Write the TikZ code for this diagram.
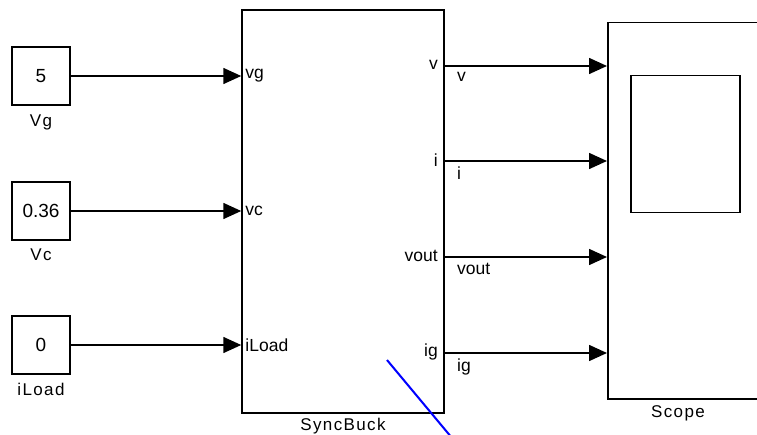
\documentclass[tikz,border=0pt]{standalone}
\usepackage{fontspec}
\setmainfont{Liberation Sans}
\newfontfamily\lblfont[LetterSpace=8]{Liberation Sans}
\usetikzlibrary{arrows.meta}
\begin{document}
\begin{tikzpicture}[x=1pt,y=-1pt,
  blk/.style={draw, line width=1.5pt, inner sep=0pt, font=\fontsize{19}{22}\selectfont},
  lbl/.style={inner sep=0pt, anchor=base, font=\lblfont\fontsize{17}{20}\selectfont},
  port/.style={inner sep=1pt, font=\fontsize{17.5}{20}\selectfont},
  conn/.style={line width=1.6pt, -{Triangle[length=18pt,width=16pt]}}]
\useasboundingbox (0,0) rectangle (757,435);
\clip (0,0) rectangle (757,435);
% sources
\node[blk, minimum width=58pt, minimum height=58pt] (vg) at (41,76) {5};
\node[blk, minimum width=58pt, minimum height=58pt] (vc) at (41,211) {0.36};
\node[blk, minimum width=58pt, minimum height=58pt] (il) at (41,345) {0};
\node[lbl] (vgl) at (41,127) {Vg};
\node[lbl] (vcl) at (41,261) {Vc};
\node[lbl] (ill) at (41,395) {iLoad};
% SyncBuck
\node[blk, minimum width=202pt, minimum height=403pt] (sb) at (343,211.5) {};
\node[lbl] (sbl) at (343,430) {SyncBuck};
% Scope
\node[blk, minimum width=180pt, minimum height=376pt, anchor=north west] (sc) at (607,22) {};
\node[draw, line width=1.5pt, minimum width=109pt, minimum height=137pt, anchor=north west, inner sep=0pt] (scr) at (630,75) {};
\node[lbl] (scl) at (678,417) {Scope};
% input ports
\draw[conn] (vg.east) -- (sb.west |- vg.east);
\draw[conn] (vc.east) -- (sb.west |- vc.east);
\draw[conn] (il.east) -- (sb.west |- il.east);
\node[port, anchor=west] (pvg) at ([xshift=3pt]sb.west |- vg.east) {vg};
\node[port, anchor=west] (pvc) at ([xshift=3pt]sb.west |- vc.east) {vc};
\node[port, anchor=west] (pil) at ([xshift=3pt]sb.west |- il.east) {iLoad};
% output ports
\coordinate (o1) at (444,66);
\coordinate (o2) at (444,161);
\coordinate (o3) at (444,257);
\coordinate (o4) at (444,353);
\draw[conn] (o1) -- (sc.west |- o1);
\draw[conn] (o2) -- (sc.west |- o2);
\draw[conn] (o3) -- (sc.west |- o3);
\draw[conn] (o4) -- (sc.west |- o4);
\node[port, anchor=east] (po1) at ([xshift=-5pt,yshift=1pt]o1) {v};
\node[port, anchor=east] (po2) at ([xshift=-5pt,yshift=1pt]o2) {i};
\node[port, anchor=east] (po3) at ([xshift=-5pt,yshift=1pt]o3) {vout};
\node[port, anchor=east] (po4) at ([xshift=-5pt,yshift=1pt]o4) {ig};
% signal labels
\node[port, anchor=north west] (s1) at ([xshift=12pt,yshift=-5pt]o1) {v};
\node[port, anchor=north west] (s2) at ([xshift=12pt,yshift=-5pt]o2) {i};
\node[port, anchor=north west] (s3) at ([xshift=12pt,yshift=-5pt]o3) {vout};
\node[port, anchor=north west] (s4) at ([xshift=12pt,yshift=-5pt]o4) {ig};
% blue stroke
\draw[blue, line width=2pt] (387,360) -- (452,438);
\end{tikzpicture}
\end{document}
